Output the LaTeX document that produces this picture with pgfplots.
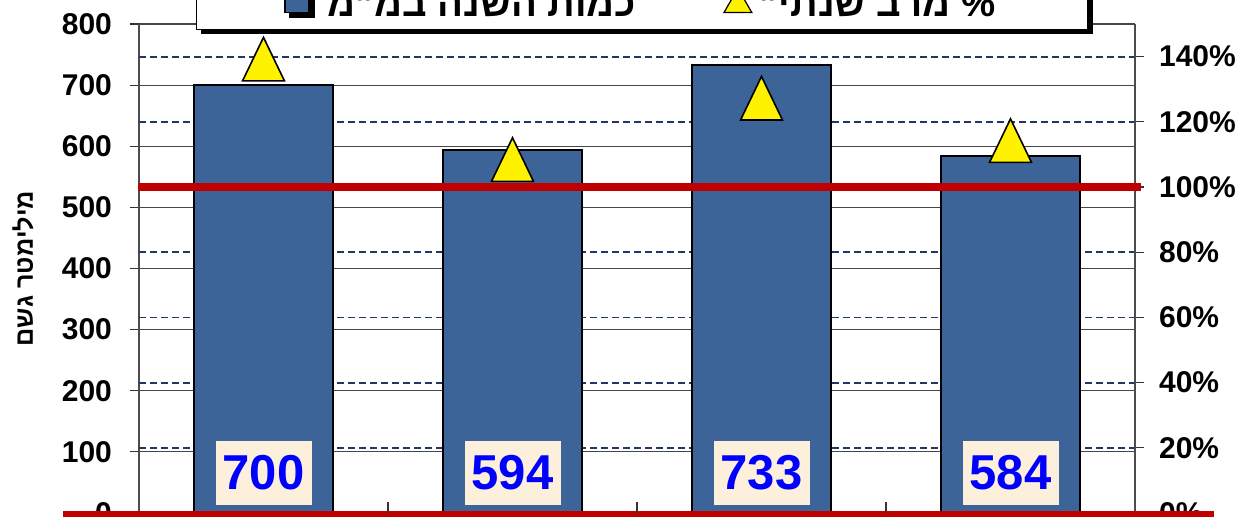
\documentclass[border=0pt]{standalone}
\usepackage{pgfplots}
\pgfplotsset{compat=1.18}
\usepackage{pgfplotstable}
\usepackage{fontspec}
\setmainfont{Liberation Sans}
\usetikzlibrary{shadows}
\TeXXeTstate=1
\definecolor{barblue}{RGB}{60,100,152}
\definecolor{gridnavy}{RGB}{31,56,100}
\definecolor{refred}{RGB}{192,0,0}
\definecolor{labelbg}{RGB}{252,240,220}
\definecolor{labelblue}{RGB}{0,0,255}

\pgfplotstableread{
x val pct base
0 700 137.0 0
1 594 106.2 0
2 733 125.0 0
3 584 112.0 0
}\datatable

\begin{document}
\begin{tikzpicture}
\useasboundingbox (-69.5pt,-1.5pt) rectangle (551pt,256.5pt);
\clip (-69.5pt,-1.5pt) rectangle (551pt,256.5pt);
\pgfplotsset{
  base/.style={
    at={(0,0)}, anchor=south west,
    scale only axis, width=498pt, height=244.5pt,
    xmin=-0.5, xmax=3.5,
    /pgf/number format/assume math mode=true,
    tick label style={font=\bfseries\fontsize{15}{17}\selectfont},
    major tick length=4.5pt,
  }
}
\begin{axis}[base,
  ymin=0, ymax=800, ytick={0,100,...,800},
  axis x line*=bottom, axis y line*=left,
  xtick=\empty,
  tick align=outside,
  ymajorgrids,
  grid style={black!72, line width=0.6pt},
  extra y ticks={106.667,213.333,320,426.667,533.333,640,746.667},
  extra y tick labels={},
  extra y tick style={grid=major, major grid style={gridnavy, line width=0.9pt, dash pattern=on 3.5pt off 2pt}, major tick length=0pt},
  axis line style={black!70, line width=0.6pt},
  ytick style={black!80, line width=0.6pt},
  yticklabel style={xshift=-5.5pt},
  ylabel={\bfseries\fontsize{12.6}{14}\selectfont\beginR מילימטר גשם\endR},
  every axis y label/.style={at={(axis description cs:-0.1165,0.5)}, rotate=90, anchor=center},
]
\addplot[ybar, bar width=69.5pt, fill=barblue, draw=black, line width=0.9pt] table[x=x,y=val]{\datatable};
\addplot[only marks, mark=none, nodes near coords, point meta=explicit symbolic,
  nodes near coords style={anchor=south, yshift=4pt, fill=labelbg, text=labelblue,
    font=\bfseries\fontsize{24.5}{26}\selectfont, minimum width=48pt, minimum height=32pt, inner sep=0pt}]
  table[x=x, y=base, meta=val]{\datatable};
\end{axis}

\begin{axis}[base,
  ymin=0, ymax=150, ytick={0,20,...,140},
  hide x axis, axis y line*=right,
  tick align=outside,
  yticklabel={\pgfmathprintnumber{\tick}\%},
  yticklabel style={xshift=4pt},
  axis line style={black!70, line width=0.6pt},
  ytick style={black!80, line width=0.6pt},
  clip=false,
  legend columns=2,
  legend style={at={(0.505,0.988)}, anchor=south, draw=black, line width=0.6pt, fill=white,
    font=\bfseries\fontsize{19.2}{21}\selectfont,
    inner xsep=44pt, inner ysep=3pt,
    /tikz/every odd column/.append style={column sep=7pt},
    /tikz/every even column/.append style={column sep=42pt},
    drop shadow={shadow xshift=2.5pt, shadow yshift=-2.5pt, fill=black, opacity=1},
  },
  legend cell align=left,
]
\addlegendimage{legend image code/.code={\draw[fill=barblue, draw=black, line width=0.6pt] (0pt,-4pt) rectangle (12pt,12pt);}}
\addlegendentry{\beginR כמות השנה במ"מ\endR}
\addlegendimage{only marks, mark=triangle*, mark size=8pt, mark options={fill=yellow, draw=black, line width=0.6pt}}
\addlegendentry{\hspace*{-5pt}\beginR \% מרב שנתי"\endR}
\addplot[refred, line width=4pt, forget plot] coordinates {(-0.505,100) (3.525,100)};
\addplot[only marks, mark=triangle*, mark size=12.1pt, mark options={fill=yellow, draw=black, line width=0.8pt, yscale=1.2}, forget plot] table[x=x, y=pct]{\datatable};
\draw[refred, line width=4pt] ([yshift=-1pt]rel axis cs:-0.076,0) -- ([yshift=-1pt]rel axis cs:1.079,0);
\end{axis}

\begin{axis}[base, ymin=0, ymax=1, hide y axis, axis x line*=bottom,
  axis line style={draw=none},
  xtick={0.5,1.5,2.5}, xticklabels={}, tick align=inside,
  major tick length=5.5pt, xtick style={black!80, line width=0.6pt}]
\end{axis}
\end{tikzpicture}
\end{document}
